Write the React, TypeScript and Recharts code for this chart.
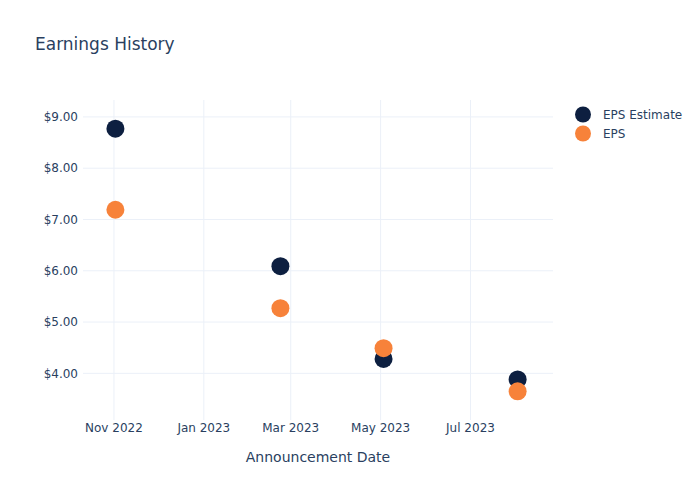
import { ScatterChart, Scatter, XAxis, YAxis, ReferenceLine } from "recharts"

const announceDates = ["2022-11-02", "2023-02-22", "2023-05-03", "2023-08-02"]
const epsEstimate = [8.77, 6.09, 4.28, 3.88]
const epsActual = [7.19, 5.27, 4.49, 3.65]
const xTickDates = ["2022-11-01", "2023-01-01", "2023-03-01", "2023-05-01", "2023-07-01"]
const yTicks = [4, 5, 6, 7, 8, 9]

const toTime = (d: string) => new Date(d + "T00:00:00Z").getTime()

const estimateData = announceDates.map((d, i) => ({ t: toTime(d), v: epsEstimate[i] }))
const actualData = announceDates.map((d, i) => ({ t: toTime(d), v: epsActual[i] }))
const xTicks = xTickDates.map(toTime)

const NAVY = "#0d1f40"
const ORANGE = "#f7823a"
const TEXT = "#2a3f5f"
const GRID = "#ebf0f8"
const FONT = "'DejaVu Sans', Verdana, sans-serif"

const fmtMonth = (t: number) =>
  new Date(t).toLocaleDateString("en-US", { month: "short", year: "numeric", timeZone: "UTC" })

const dot = (color: string) => (props: any) => (
  <circle cx={props.cx} cy={props.cy} r={9} fill={color} />
)

const legendItems = [
  { name: "EPS Estimate", color: NAVY },
  { name: "EPS", color: ORANGE },
]

export default function App() {
  return (
    <div style={{ position: "absolute", left: 0, top: 0, width: 700, height: 500, background: "#fff", fontFamily: FONT }}>
      <div style={{ position: "absolute", left: 35, top: 34, fontSize: 17, color: TEXT }}>Earnings History</div>
      <div style={{ position: "absolute", left: 573, top: 105, fontSize: 12, color: TEXT }}>
        {legendItems.map((item) => (
          <div key={item.name} style={{ display: "flex", alignItems: "center", height: 19 }}>
            <svg width={20} height={19}>
              <circle cx={10} cy={9.5} r={8} fill={item.color} />
            </svg>
            <span style={{ marginLeft: 10 }}>{item.name}</span>
          </div>
        ))}
      </div>
      <ScatterChart width={700} height={500} margin={{ top: 100, right: 147, bottom: 0, left: 23 }}>
        <XAxis
          type="number"
          dataKey="t"
          domain={[toTime("2022-10-11"), toTime("2023-08-26")]}
          ticks={xTicks}
          tickFormatter={fmtMonth}
          axisLine={false}
          tickLine={false}
          tickSize={0}
          tickMargin={3}
          height={80}
          tick={{ fontSize: 12, fill: TEXT, fontFamily: FONT }}
          label={{ value: "Announcement Date", position: "insideBottom", offset: 38, fontSize: 14, fill: TEXT, fontFamily: FONT }}
        />
        <YAxis
          type="number"
          dataKey="v"
          domain={[3.09, 9.33]}
          ticks={yTicks}
          tickFormatter={(v: number) => `$${v.toFixed(2)}`}
          axisLine={false}
          tickLine={false}
          tickSize={0}
          tickMargin={5}
          width={60}
          tick={{ fontSize: 12, fill: TEXT, fontFamily: FONT }}
        />
        {xTicks.map((t) => (
          <ReferenceLine key={`x-${t}`} x={t} stroke={GRID} strokeWidth={1} />
        ))}
        {yTicks.map((v) => (
          <ReferenceLine key={`y-${v}`} y={v} stroke={GRID} strokeWidth={1} />
        ))}
        <Scatter name="EPS Estimate" data={estimateData} shape={dot(NAVY)} isAnimationActive={false} />
        <Scatter name="EPS" data={actualData} shape={dot(ORANGE)} isAnimationActive={false} />
      </ScatterChart>
    </div>
  )
}
